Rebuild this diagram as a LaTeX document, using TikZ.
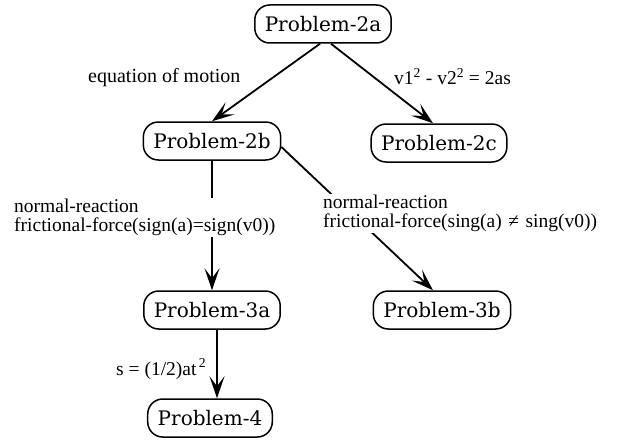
\documentclass[tikz,border=0pt]{standalone}
\usepackage{fontspec}
\setmainfont{Liberation Serif}
\newfontfamily\nodefont{DejaVu Serif}
\usetikzlibrary{arrows.meta}
\tikzset{
  prob/.style={draw, line width=1.5pt, rounded corners=15pt, minimum height=38pt,
    inner xsep=10pt, inner ysep=2pt, font=\nodefont\fontsize{20}{20}\selectfont},
  arr/.style={line width=1.8pt, -{Stealth[length=22pt,width=15pt,inset=10pt]}},
  lbl/.style={font=\fontsize{19.5}{19}\selectfont, inner sep=1pt, align=left},
  lblw/.style={lbl, fill=white},
}
\begin{document}
\begin{tikzpicture}[x=1pt,y=-1pt]
\useasboundingbox (0,0) rectangle (623,441);
\node[prob] (p2a) at (323,24) {Problem-2a};
\node[prob] (p2b) at (212,141) {Problem-2b};
\node[prob] (p2c) at (439,143) {Problem-2c};
\node[prob] (p3a) at (212,310) {Problem-3a};
\node[prob] (p3b) at (442,310) {Problem-3b};
\node[prob] (p4) at (210,418) {Problem-4};

\draw[arr] ([xshift=-3pt]p2a.south) -- (p2b.north);
\draw[arr] ([xshift=8pt]p2a.south) -- ([xshift=-6pt]p2c.north);
\draw[arr] (p2b.south) -- (p3a.north);
\draw[arr] ([yshift=-6pt]p2b.east) -- ([xshift=-9pt]p3b.north);
\draw[arr] ([xshift=5pt]p3a.south) -- ([xshift=5pt]p3a.south |- p4.north);

\node[lbl, anchor=base west] (l1) at (87,83) {\fontsize{20}{20}\selectfont equation of motion};
\node[lbl, anchor=base west] (l2) at (393,85) {v1$^{\mathrm{2}}$ - v2$^{\mathrm{2}}$ = 2as};
\node[lblw, anchor=north west] (l3) at (13,198) {normal-reaction\\ frictional-force(sign(a)=sign(v0))};
\node[lblw, anchor=north west] (l4) at (322,194) {normal-reaction\\ frictional-force(sing(a)\,\,≠\,\,sing(v0))};
\node[lbl, anchor=base west] (l5) at (115,375) {s = (1/2)at$^{\,\mathrm{2}}$};
\end{tikzpicture}
\end{document}
